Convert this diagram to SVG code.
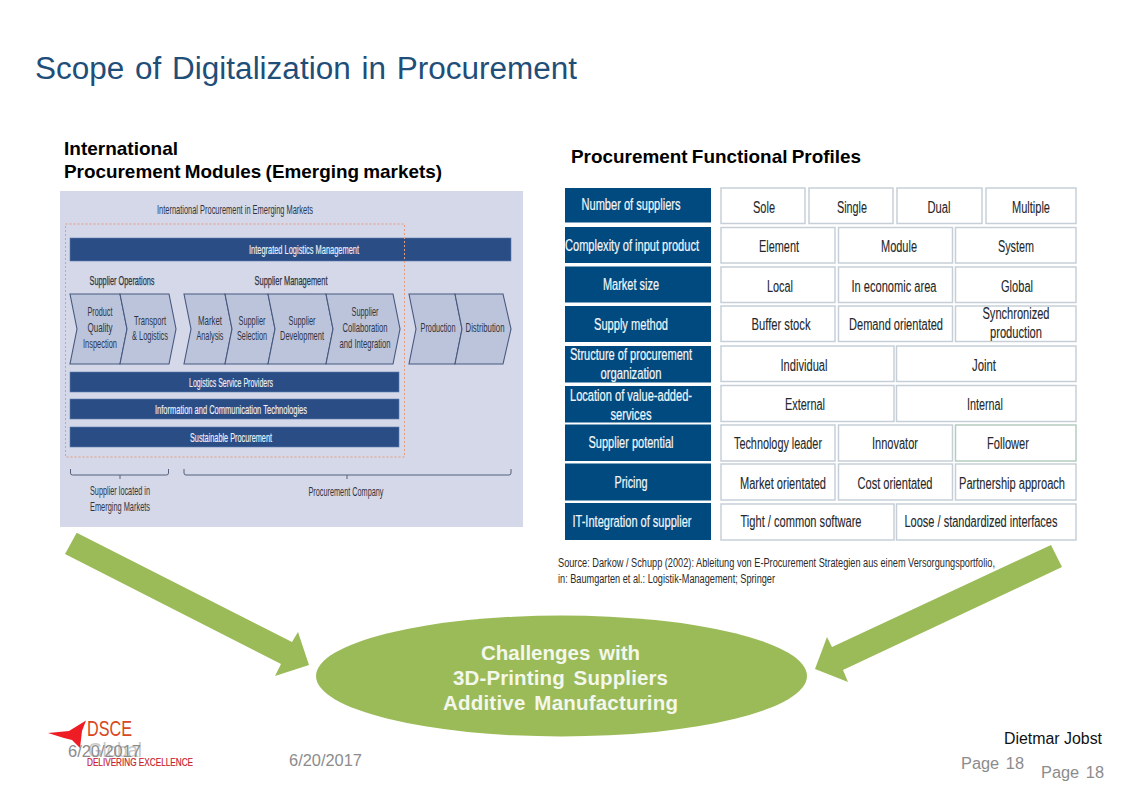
<svg xmlns="http://www.w3.org/2000/svg" width="1123" height="794" viewBox="0 0 1123 794">
<style>
text{font-family:"Liberation Sans",Arial,sans-serif}
.hd{font-size:19px;font-weight:bold;fill:#000}
.bar{fill:#2a4d85;stroke:#5f7db0;stroke-width:.6}
.wt{font-size:13px;fill:#eef2f8;text-anchor:middle;stroke:#eef2f8;stroke-width:.15}
.dk{font-size:13px;fill:#2f3542;text-anchor:middle}
.db{font-size:13px;fill:#2f3542;text-anchor:middle;stroke:#2f3542;stroke-width:.25}
.ch{fill:#bcc4dc;stroke:#47587e;stroke-width:1.1}
.br{fill:none;stroke:#55607a;stroke-width:1}
.lab{fill:#014a80}
.lt{font-size:16px;fill:#f3f7fb;text-anchor:middle;stroke:#f3f7fb;stroke-width:.2}
.cell{fill:#fff;stroke:#c6cfd8;stroke-width:1.5}
.ct{font-size:16px;fill:#24282c;text-anchor:middle;stroke:#24282c;stroke-width:.1}
.ar{fill:#9bbb59}
.el{font-size:20.500px;font-weight:bold;fill:#f4f7ec;text-anchor:middle;word-spacing:3px}
.ft{font-size:16px;fill:#8c8c8c;word-spacing:2px}
.src{font-size:12px;fill:#2a2a2a}
</style>
<rect width="1123" height="794" fill="#fff"/>
<text id="title" x="35" y="79" font-size="31" fill="#1f4e79" word-spacing="2" textLength="542" lengthAdjust="spacingAndGlyphs">Scope of Digitalization in Procurement</text>
<g id="heading-left"><text class="hd" x="64" y="155" textLength="114" lengthAdjust="spacingAndGlyphs">International</text><text class="hd" x="64" y="178" word-spacing="-1" textLength="378" lengthAdjust="spacingAndGlyphs">Procurement Modules (Emerging markets)</text></g>
<text id="heading-right" class="hd" x="571" y="163" word-spacing="-1" textLength="290" lengthAdjust="spacingAndGlyphs">Procurement Functional Profiles</text>

<g id="modules">
<rect x="60" y="191" width="463" height="336" fill="#d4d8e9"/>
<text class="dk" x="235" y="214" textLength="156" lengthAdjust="spacingAndGlyphs">International Procurement in Emerging Markets</text>
<g id="integrated"><rect class="bar" x="70" y="238" width="441" height="23"/><text class="wt" x="304" y="254" textLength="110" lengthAdjust="spacingAndGlyphs">Integrated Logistics Management</text></g>
<text class="db" x="122" y="285" textLength="65" lengthAdjust="spacingAndGlyphs">Supplier Operations</text>
<text class="db" x="291" y="285" textLength="73" lengthAdjust="spacingAndGlyphs">Supplier Management</text>
<g id="chevrons">
<polygon class="ch" points="70,294 120,294 127,329 120,364 70,364 77,329"/>
<polygon class="ch" points="120,294 169,294 176,329 169,364 120,364 127,329"/>
<polygon class="ch" points="184,294 225,294 232,329 225,364 184,364 191,329"/>
<polygon class="ch" points="225,294 268,294 275,329 268,364 225,364 232,329"/>
<polygon class="ch" points="268,294 326,294 333,329 326,364 268,364 275,329"/>
<polygon class="ch" points="326,294 393,294 400,329 393,364 326,364 333,329"/>
<polygon class="ch" points="409,294 455,294 462,329 455,364 409,364 416,329"/>
<polygon class="ch" points="455,294 503,294 511,329 503,364 455,364 462,329"/>
</g>
<g id="chevron-labels">
<text class="dk" x="100" y="316" textLength="25" lengthAdjust="spacingAndGlyphs">Product</text><text class="dk" x="100" y="332" textLength="25" lengthAdjust="spacingAndGlyphs">Quality</text><text class="dk" x="100" y="348" textLength="34" lengthAdjust="spacingAndGlyphs">Inspection</text>
<text class="dk" x="150" y="325" textLength="32" lengthAdjust="spacingAndGlyphs">Transport</text><text class="dk" x="150" y="340" textLength="36" lengthAdjust="spacingAndGlyphs">&amp; Logistics</text>
<text class="dk" x="210" y="325" textLength="24" lengthAdjust="spacingAndGlyphs">Market</text><text class="dk" x="210" y="340" textLength="27" lengthAdjust="spacingAndGlyphs">Analysis</text>
<text class="dk" x="252" y="325" textLength="27" lengthAdjust="spacingAndGlyphs">Supplier</text><text class="dk" x="252" y="340" textLength="30" lengthAdjust="spacingAndGlyphs">Selection</text>
<text class="dk" x="302" y="325" textLength="27" lengthAdjust="spacingAndGlyphs">Supplier</text><text class="dk" x="302" y="340" textLength="44" lengthAdjust="spacingAndGlyphs">Development</text>
<text class="dk" x="365" y="316" textLength="27" lengthAdjust="spacingAndGlyphs">Supplier</text><text class="dk" x="365" y="332" textLength="45" lengthAdjust="spacingAndGlyphs">Collaboration</text><text class="dk" x="365" y="348" textLength="51" lengthAdjust="spacingAndGlyphs">and Integration</text>
<text class="dk" x="438" y="332" textLength="35" lengthAdjust="spacingAndGlyphs">Production</text>
<text class="dk" x="485" y="332" textLength="39" lengthAdjust="spacingAndGlyphs">Distribution</text>
</g>
<g id="lsp"><rect class="bar" x="70" y="372" width="329" height="20"/><text class="wt" x="231" y="387" textLength="84" lengthAdjust="spacingAndGlyphs">Logistics Service Providers</text></g>
<g id="ict"><rect class="bar" x="70" y="399" width="329" height="20"/><text class="wt" x="231" y="414" textLength="152" lengthAdjust="spacingAndGlyphs">Information and Communication Technologies</text></g>
<g id="sustainable"><rect class="bar" x="70" y="427" width="329" height="20"/><text class="wt" x="231" y="442" textLength="82" lengthAdjust="spacingAndGlyphs">Sustainable Procurement</text></g>
<rect x="65.500" y="224" width="339" height="233" fill="none" stroke="#e59c7c" stroke-width="1" stroke-dasharray="2 2"/>
<path class="br" d="M70.500 469v4q0 2 2 2h94q2 0 2-2v-4M120 475v4M184 469v4q0 2 2 2h323q2 0 2-2v-4M347 475v4"/>
<text class="dk" x="120" y="495" textLength="60" lengthAdjust="spacingAndGlyphs">Supplier located in</text>
<text class="dk" x="120" y="511" textLength="60" lengthAdjust="spacingAndGlyphs">Emerging Markets</text>
<text class="dk" x="346" y="496" textLength="75" lengthAdjust="spacingAndGlyphs">Procurement Company</text>
</g>

<g id="profiles">
<g id="row1"><rect class="lab" x="565" y="188" width="146" height="34.500"/><text class="lt" x="631" y="210" textLength="99" lengthAdjust="spacingAndGlyphs">Number of suppliers</text>
<rect class="cell" x="721" y="188" width="84" height="35.500"/><text class="ct" x="764" y="213" textLength="22" lengthAdjust="spacingAndGlyphs">Sole</text>
<rect class="cell" x="809" y="188" width="84" height="35.500"/><text class="ct" x="852" y="213" textLength="30" lengthAdjust="spacingAndGlyphs">Single</text>
<rect class="cell" x="897" y="188" width="85" height="35.500"/><text class="ct" x="939" y="213" textLength="23" lengthAdjust="spacingAndGlyphs">Dual</text>
<rect class="cell" x="986" y="188" width="90" height="35.500"/><text class="ct" x="1031" y="213" textLength="38" lengthAdjust="spacingAndGlyphs">Multiple</text></g>
<g id="row2"><rect class="lab" x="565" y="227" width="146" height="36"/><text class="lt" x="632" y="251" textLength="134" lengthAdjust="spacingAndGlyphs">Complexity of input product</text>
<rect class="cell" x="721" y="227.500" width="114" height="35.500"/><text class="ct" x="779" y="252" textLength="40" lengthAdjust="spacingAndGlyphs">Element</text>
<rect class="cell" x="838.500" y="227.500" width="114" height="35.500"/><text class="ct" x="899" y="252" textLength="36" lengthAdjust="spacingAndGlyphs">Module</text>
<rect class="cell" x="955.500" y="227.500" width="120.500" height="35.500"/><text class="ct" x="1016" y="252" textLength="36" lengthAdjust="spacingAndGlyphs">System</text></g>
<g id="row3"><rect class="lab" x="565" y="266.500" width="146" height="36"/><text class="lt" x="631" y="290" textLength="56" lengthAdjust="spacingAndGlyphs">Market size</text>
<rect class="cell" x="721" y="267" width="114" height="35.500"/><text class="ct" x="780" y="292" textLength="26" lengthAdjust="spacingAndGlyphs">Local</text>
<rect class="cell" x="838.500" y="267" width="114" height="35.500"/><text class="ct" x="894" y="292" textLength="85" lengthAdjust="spacingAndGlyphs">In economic area</text>
<rect class="cell" x="955.500" y="267" width="120.500" height="35.500"/><text class="ct" x="1017" y="292" textLength="32" lengthAdjust="spacingAndGlyphs">Global</text></g>
<g id="row4"><rect class="lab" x="565" y="306" width="146" height="36"/><text class="lt" x="631" y="330" textLength="74" lengthAdjust="spacingAndGlyphs">Supply method</text>
<rect class="cell" x="721" y="306" width="114" height="35.500"/><text class="ct" x="781" y="330" textLength="59" lengthAdjust="spacingAndGlyphs">Buffer stock</text>
<rect class="cell" x="838.500" y="306" width="114" height="35.500"/><text class="ct" x="896" y="330" textLength="94" lengthAdjust="spacingAndGlyphs">Demand orientated</text>
<rect class="cell" x="955.500" y="306" width="120.500" height="35.500"/><text class="ct" x="1016" y="319" textLength="67" lengthAdjust="spacingAndGlyphs">Synchronized</text><text class="ct" x="1016" y="338" textLength="52" lengthAdjust="spacingAndGlyphs">production</text></g>
<g id="row5"><rect class="lab" x="565" y="346" width="146" height="36.500"/><text class="lt" x="631" y="360" textLength="122" lengthAdjust="spacingAndGlyphs">Structure of procurement</text><text class="lt" x="631" y="379" textLength="61" lengthAdjust="spacingAndGlyphs">organization</text>
<rect class="cell" x="721" y="346" width="173" height="35.500"/><text class="ct" x="804" y="371" textLength="47" lengthAdjust="spacingAndGlyphs">Individual</text>
<rect class="cell" x="896.500" y="346" width="179.500" height="35.500"/><text class="ct" x="984" y="371" textLength="24" lengthAdjust="spacingAndGlyphs">Joint</text></g>
<g id="row6"><rect class="lab" x="565" y="386" width="146" height="36.500"/><text class="lt" x="631" y="401" textLength="122" lengthAdjust="spacingAndGlyphs">Location of value-added-</text><text class="lt" x="631" y="420" textLength="41" lengthAdjust="spacingAndGlyphs">services</text>
<rect class="cell" x="721" y="385.500" width="173" height="36"/><text class="ct" x="805" y="410" textLength="40" lengthAdjust="spacingAndGlyphs">External</text>
<rect class="cell" x="896.500" y="385.500" width="179.500" height="36"/><text class="ct" x="985" y="410" textLength="36" lengthAdjust="spacingAndGlyphs">Internal</text></g>
<g id="row7"><rect class="lab" x="565" y="424.500" width="146" height="36.500"/><text class="lt" x="631" y="448" textLength="85" lengthAdjust="spacingAndGlyphs">Supplier potential</text>
<rect class="cell" x="721" y="425" width="114" height="36"/><text class="ct" x="778" y="449" textLength="88" lengthAdjust="spacingAndGlyphs">Technology leader</text>
<rect class="cell" x="838.500" y="425" width="114" height="36"/><text class="ct" x="895" y="449" textLength="46" lengthAdjust="spacingAndGlyphs">Innovator</text>
<rect class="cell" x="955.500" y="425" width="120.500" height="36" style="stroke:#b5cdc0"/><text class="ct" x="1008" y="449" textLength="42" lengthAdjust="spacingAndGlyphs">Follower</text></g>
<g id="row8"><rect class="lab" x="565" y="463.500" width="146" height="37"/><text class="lt" x="631" y="488" textLength="33" lengthAdjust="spacingAndGlyphs">Pricing</text>
<rect class="cell" x="721" y="464" width="114" height="36"/><text class="ct" x="783" y="489" textLength="86" lengthAdjust="spacingAndGlyphs">Market orientated</text>
<rect class="cell" x="838.500" y="464" width="114" height="36"/><text class="ct" x="895" y="489" textLength="75" lengthAdjust="spacingAndGlyphs">Cost orientated</text>
<rect class="cell" x="955.500" y="464" width="120.500" height="36" /><text class="ct" x="1012" y="489" textLength="106" lengthAdjust="spacingAndGlyphs">Partnership approach</text></g>
<g id="row9"><rect class="lab" x="565" y="503" width="146" height="37"/><text class="lt" x="632" y="527" textLength="119" lengthAdjust="spacingAndGlyphs">IT-Integration of supplier</text>
<rect class="cell" x="721" y="504" width="173" height="36"/><text class="ct" x="801" y="527" textLength="121" lengthAdjust="spacingAndGlyphs">Tight / common software</text>
<rect class="cell" x="896.500" y="504" width="179.500" height="36"/><text class="ct" x="981" y="527" textLength="153" lengthAdjust="spacingAndGlyphs">Loose / standardized interfaces</text></g>
</g>
<g id="source"><text class="src" x="558" y="567" textLength="437" lengthAdjust="spacingAndGlyphs">Source: Darkow / Schupp (2002): Ableitung von E-Procurement Strategien aus einem Versorgungsportfolio,</text><text class="src" x="558" y="583" textLength="217" lengthAdjust="spacingAndGlyphs">in: Baumgarten et al.: Logistik-Management; Springer</text></g>

<g id="connectors">
<polygon class="ar" points="76.700,532.700 65,554 281,664 275,676 309,665 298,632 292,642"/>
<polygon class="ar" points="1051,545 1062,567 843,670 848,682 815,669 827,637 832,647"/>
</g>
<g id="challenges">
<ellipse cx="561.500" cy="676" rx="245.500" ry="60.500" fill="#9bbb59"/>
<text class="el" x="560.500" y="660" textLength="159" lengthAdjust="spacing">Challenges with</text>
<text class="el" x="560.500" y="685" textLength="215" lengthAdjust="spacing">3D-Printing Suppliers</text>
<text class="el" x="560.500" y="710" textLength="235" lengthAdjust="spacing">Additive Manufacturing</text>
</g>
<g id="logo">
<polygon points="48,733 69,731 86,720.500 82,731 80,748 72,740 64,738" fill="#ee1c25"/>
<text x="87" y="736" font-size="22" fill="#d9471d" textLength="45" lengthAdjust="spacingAndGlyphs">DSCE</text>
<text x="88" y="757" font-size="20" fill="#c9c9c9" textLength="54" lengthAdjust="spacingAndGlyphs">Global</text>
<text x="87" y="766" font-size="11" fill="#c8202f" stroke="#c8202f" stroke-width=".2" textLength="106" lengthAdjust="spacingAndGlyphs">DELIVERING EXCELLENCE</text>
</g>
<g id="footer">
<text class="ft" x="68" y="757" textLength="73" lengthAdjust="spacingAndGlyphs">6/20/2017</text>
<text class="ft" x="289" y="766" textLength="73" lengthAdjust="spacingAndGlyphs">6/20/2017</text>
<text x="1004" y="744" font-size="16" fill="#111" textLength="98" lengthAdjust="spacingAndGlyphs">Dietmar Jobst</text>
<text class="ft" x="961" y="769" textLength="63" lengthAdjust="spacingAndGlyphs">Page 18</text>
<text class="ft" x="1041" y="778" textLength="63" lengthAdjust="spacingAndGlyphs">Page 18</text>
</g>
</svg>
